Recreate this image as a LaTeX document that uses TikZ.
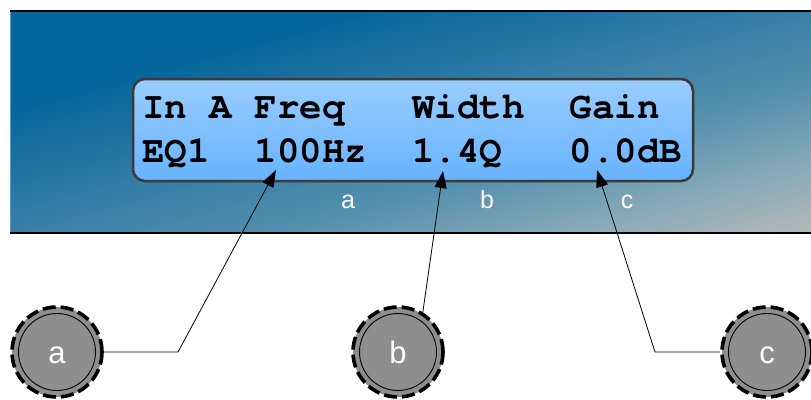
\documentclass[tikz,border=0pt]{standalone}
\usepackage{fontspec}
\setmainfont{Liberation Sans}
\newfontfamily\lcdfont{texgyrecursor-bold}[Extension=.otf]
\usetikzlibrary{arrows.meta}
\definecolor{pdark}{HTML}{05669B}
\definecolor{pa}{HTML}{2F7AA5}
\definecolor{pb}{HTML}{5590AE}
\definecolor{pc}{HTML}{8AAAB8}
\definecolor{plight}{HTML}{C6BFB8}
\definecolor{leftedge}{HTML}{5C9CC4}
\definecolor{lcdtop}{HTML}{9ACDFF}
\definecolor{lcdbot}{HTML}{66B3FF}
\definecolor{lcdborder}{HTML}{3A3A3A}
\definecolor{knobgray}{HTML}{8E8E8E}
\pgfdeclarehorizontalshading{panelshade}{100bp}{color(0bp)=(pdark); color(30bp)=(pdark); color(46bp)=(pa); color(62bp)=(pb); color(75bp)=(pc); color(90bp)=(plight); color(100bp)=(plight)}
\begin{document}
\begin{tikzpicture}[x=1pt,y=-1pt,
  lcdbox/.style={rectangle, rounded corners=12pt, draw=lcdborder, line width=2.5pt,
    top color=lcdtop, bottom color=lcdbot, minimum width=560pt, minimum height=102pt, inner sep=0pt},
  lcdtext/.style={font=\lcdfont\fontsize{37.5}{37.5}\selectfont, inner sep=0pt, anchor=base west},
  lbl/.style={font=\fontsize{25}{25}\selectfont, text=white, inner sep=0pt, anchor=base},
  knob/.style={circle, minimum size=90pt, inner sep=0pt, fill=knobgray, draw=black,
    line width=3.6pt, dash pattern=on 13pt off 5pt},
  knobinner/.style={circle, minimum size=77pt, inner sep=0pt, draw=black, line width=0.9pt},
  knoblabel/.style={font=\fontsize{31}{31}\selectfont, text=white, inner sep=0pt, anchor=base},
  conn/.style={draw=black, line width=0.8pt, -{Triangle[length=17pt,width=12pt]}}
]
\useasboundingbox (0,0) rectangle (811,399);
% panel
\begin{scope}[transform canvas={shift={(10,11)}, xscale=8.01, yscale=2.22}]
  \shade[shading=panelshade, shading angle=-45] (0,0) rectangle (100,100);
\end{scope}
\draw[leftedge, line width=1pt] (10.5,11) -- (10.5,233);
\draw[black, line width=2.6pt] (10,11) -- (811,11);
\draw[black, line width=2.6pt] (10,233) -- (811,233);
% LCD
\node[lcdbox] (lcd) at (413,130) {};
\node[lcdtext] (row1) at (142,118) {In~A~Freq~~~Width~~Gain};
\node[lcdtext] (row2) at (142,162) {EQ1~~100Hz~~1.4Q~~~0.0dB};
% small labels
\node[lbl] (la) at (348,208) {a};
\node[lbl] (lb) at (487,208) {b};
\node[lbl] (lc) at (627,208) {c};
% knobs
\node[knob] (ka) at (57,352) {};
\node[knob] (kb) at (398,352) {};
\node[knob] (kc) at (767,352) {};
\node[knobinner] (ia) at (ka) {};
\node[knobinner] (ib) at (kb) {};
\node[knobinner] (ic) at (kc) {};
\node[knoblabel] (ta) at (57,363) {a};
\node[knoblabel] (tb) at (398,363) {b};
\node[knoblabel] (tc) at (767,363) {c};
% connector points
\coordinate (bendA) at (178,352);
\coordinate (tipA) at (276,170);
\coordinate (tipB) at (443,171);
\coordinate (bendC) at (655,352);
\coordinate (tipC) at (597,170);
\draw[conn] (ka.east) -- (bendA) -- (tipA);
\draw[conn] (kb.58) -- (tipB);
\draw[conn] (kc.west) -- (bendC) -- (tipC);
\end{tikzpicture}
\end{document}
